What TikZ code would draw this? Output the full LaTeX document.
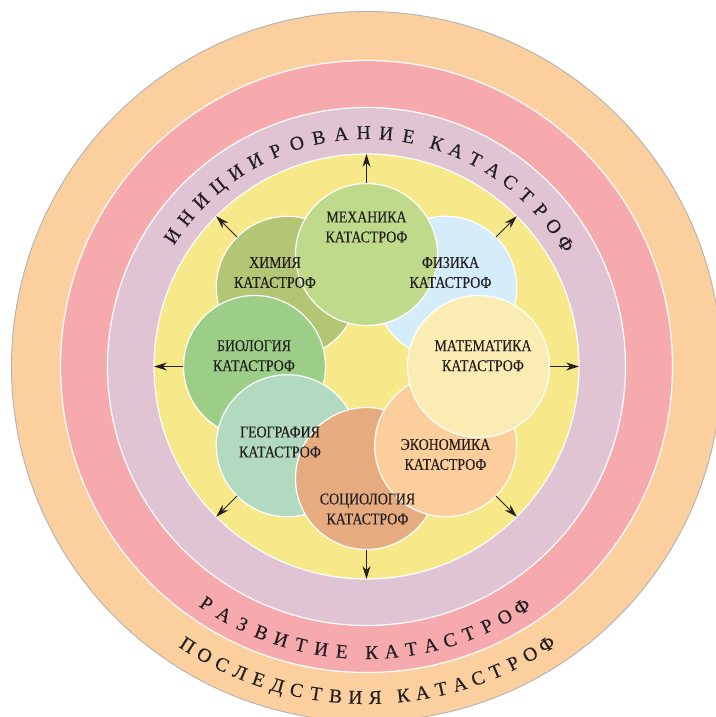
\documentclass[tikz,border=0pt]{standalone}
\usepackage{fontspec}
\setmainfont{Liberation Serif}
\newfontfamily\bandfont[FakeBold=0.3]{Liberation Serif}
\newfontfamily\branchfont[FakeStretch=0.84, FakeBold=0.3]{Liberation Serif}
\usetikzlibrary{arrows.meta, positioning, calc}

% Band colours
\definecolor{bandPeach}{HTML}{FCD09E}
\definecolor{bandPink}{HTML}{F6AAAE}
\definecolor{bandMauve}{HTML}{E1C4D3}
\definecolor{bandYellow}{HTML}{F7E989}
% Branch colours
\definecolor{chemFill}{HTML}{B2C676}
\definecolor{mechFill}{HTML}{BEDA8A}
\definecolor{physFill}{HTML}{D5ECFA}
\definecolor{mathFill}{HTML}{FAECB2}
\definecolor{econFill}{HTML}{FCCE9B}
\definecolor{socFill}{HTML}{E6AC80}
\definecolor{geoFill}{HTML}{B2DAC0}
\definecolor{bioFill}{HTML}{9DCE87}
\definecolor{inkGray}{HTML}{231F20}

\begin{document}
\begin{tikzpicture}[x=1pt, y=1pt]
    % --- Style Definitions ---
    \tikzset{
        % Concentric bands
        band style/.style={
            circle,
            draw=white,
            line width=1.2pt,
            inner sep=0pt,
            outer sep=0pt
        },
        % Branch circles
        branch style/.style={
            circle,
            draw=white,
            line width=1.2pt,
            minimum size=142pt,
            inner sep=0pt,
            outer sep=0pt
        },
        % Text styling
        branch text/.style={font=\branchfont\fontsize{16.5}{20}\selectfont, align=center, text=inkGray},
        band text/.style={font=\bandfont\fontsize{19.5}{20}\selectfont, text=inkGray, inner sep=0pt, anchor=base},
        % Arrow styling
        spread arrow/.style={
            -{Stealth[length=13pt, width=8pt]},
            line width=1pt,
            draw=inkGray
        }
    }

    \useasboundingbox (-366.5,-350.5) rectangle (348.5,366.5);

    % ==========================================
    % BANDS
    % ==========================================
    \node[band style, fill=bandPeach, draw=black!30, line width=0.9pt, minimum size=710pt] (consequences) at (0,0) {};
    \node[band style, fill=bandPink, minimum size=612pt] (development) at (0,0) {};
    \node[band style, fill=bandMauve, minimum size=518pt] (initiation) at (0,0) {};
    \node[band style, fill=bandYellow, minimum size=425pt] (core) at (0,0) {};

    % Top band title
    \foreach \ch [count=\i from 0] in {И,Н,И,Ц,И,И,Р,О,В,А,Н,И,Е}
        \node[band text, rotate={146.1-\i*5.54-90}] at ({146.1-\i*5.54}:227.5) {\ch};
    \foreach \ch [count=\i from 0] in {К,А,Т,А,С,Т,Р,О,Ф}
        \node[band text, rotate={72.5-\i*5.1-90}] at ({72.5-\i*5.1}:227.5) {\ch};

    % Bottom band titles
    \foreach \ch [count=\i from 0] in {Р,А,З,В,И,Т,И,Е}
        \node[band text, rotate={-124+\i*4.15+90}] at ({-124+\i*4.15}:292.5) {\ch};
    \foreach \ch [count=\i from 0] in {К,А,Т,А,С,Т,Р,О,Ф}
        \node[band text, rotate={-88.96+\i*3.98+90}] at ({-88.96+\i*3.98}:292.5) {\ch};

    \foreach \ch [count=\i from 0] in {П,О,С,Л,Е,Д,С,Т,В,И,Я}
        \node[band text, rotate={-122.7+\i*3.42+90}] at ({-122.7+\i*3.42}:337.5) {\ch};
    \foreach \ch [count=\i from 0] in {К,А,Т,А,С,Т,Р,О,Ф}
        \node[band text, rotate={-83.6+\i*3.32+90}] at ({-83.6+\i*3.32}:337.5) {\ch};

    % ==========================================
    % BRANCHES (bottom to top)
    % ==========================================
    \node[branch style, fill=chemFill] (chemistry) at (135:112) {};
    \node[branch style, fill=bioFill] (biology) at (180:112) {};
    \node[branch style, fill=geoFill] (geography) at (-135:112) {};
    \node[branch style, fill=socFill] (sociology) at (-90:112) {};
    \node[branch style, fill=econFill] (economics) at (-45:112) {};
    \node[branch style, fill=physFill] (physics) at (45:112) {};
    \node[branch style, fill=mathFill] (mathematics) at (0:112) {};
    \node[branch style, fill=mechFill] (mechanics) at (90:112) {};

    % Branch names
    \node[branch text] at ($(chemistry)+(-12.3,14.8)$) {ХИМИЯ\\КАТАСТРОФ};
    \node[branch text] at ($(biology)+(-0.5,10.8)$) {БИОЛОГИЯ\\КАТАСТРОФ};
    \node[branch text] at ($(geography)+(-7.3,3.7)$) {ГЕОГРАФИЯ\\КАТАСТРОФ};
    \node[branch text] at ($(sociology)+(1,-30.5)$) {СОЦИОЛОГИЯ\\КАТАСТРОФ};
    \node[branch text] at ($(economics)+(-0.2,-8.8)$) {ЭКОНОМИКА\\КАТАСТРОФ};
    \node[branch text] at ($(physics)+(4.8,14.8)$) {ФИЗИКА\\КАТАСТРОФ};
    \node[branch text] at ($(mathematics)+(4.5,10.8)$) {МАТЕМАТИКА\\КАТАСТРОФ};
    \node[branch text] at ($(mechanics)+(0,27.5)$) {МЕХАНИКА\\КАТАСТРОФ};

    % Spreading arrows
    \foreach \src/\ang in {mechanics/90, physics/45, mathematics/0, economics/-45,
                           sociology/-90, geography/-135, biology/180, chemistry/135}
        \draw[spread arrow] (\src.\ang) -- (core.\ang);

\end{tikzpicture}
\end{document}
